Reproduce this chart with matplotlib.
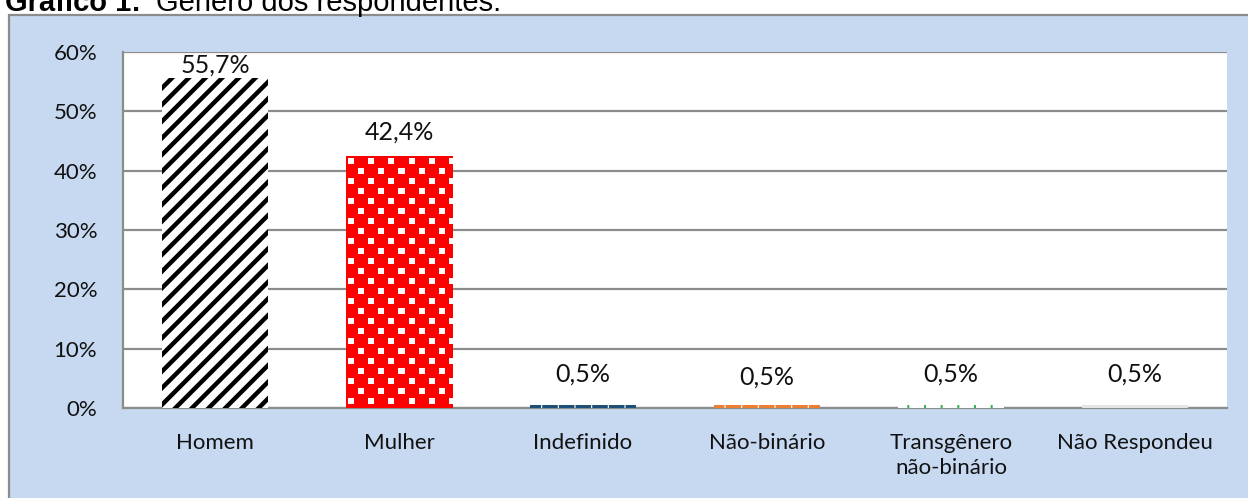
import matplotlib.pyplot as plt
import matplotlib.patches as mpatches
import numpy as np

categorias = ['Homem', 'Mulher', 'Indefinido', 'Não-binário', 'Transgênero\nnão-binário', 'Não Respondeu']
valores = [55.7, 42.4, 0.5, 0.5, 0.5, 0.5]
rotulos = ['55,7%', '42,4%', '0,5%', '0,5%', '0,5%', '0,5%']
yticks = [0, 10, 20, 30, 40, 50, 60]

# estilos das barras (imitando os padroes do Excel)
faces = ['white', 'red', '#1F4E79', '#ED7D31', 'white', '#E4E4E4']
hatches = ['//', None, '|', '|', '|', None]
hcolors = ['black', 'red', 'white', 'white', '#2DB34A', '#E4E4E4']
hlw = [3.2, 1, 0.8, 0.8, 1.4, 1]
# distancia da linha de base do rotulo ao topo da barra (pt)
off = [3.6, 12, 16.6, 14.4, 16.6, 16.6]

plt.rcParams['font.family'] = ['Lato', 'DejaVu Sans']

fig = plt.figure(figsize=(12.48, 4.98), dpi=100)

# caixa azul de fundo
bg = mpatches.Rectangle((8.5/1248, -0.05), 1.1, 1 - 15/498 + 0.05, transform=fig.transFigure,
                        facecolor='#C6D9F1', edgecolor='#8C8C8C', lw=1.6, zorder=-5)
fig.patches.append(bg)

fig.text(5/1248, 1 - 11/498, 'Gráfico 1:', fontsize=21, fontweight='bold',
         family='Liberation Sans', va='baseline', ha='left')
fig.text(156/1248, 1 - 11/498, 'Gênero dos respondentes.', fontsize=21,
         family='Liberation Sans', va='baseline', ha='left')

ax = fig.add_axes([123/1248, 90/498, 1104/1248, 356/498])
ax.set_zorder(2)
ax.set_facecolor('white')

x = np.arange(len(categorias))
barras = []
for i in range(len(categorias)):
    with plt.rc_context({'hatch.linewidth': hlw[i]}):
        b = ax.bar(x[i], valores[i], width=0.58, color=faces[i], edgecolor=hcolors[i],
                   hatch=hatches[i], linewidth=0, zorder=3)[0]
    barras.append(b)
    ax.annotate(rotulos[i], (x[i], valores[i]), xytext=(0, off[i]), textcoords='offset points',
                ha='center', va='baseline', fontsize=18, color='#111111')

# textura de bolinhas vermelhas (barra Mulher)
b = barras[1]
ii, jj = np.indices((252, 106))
branco = (((ii // 10 + jj // 10) % 2) == 0) & (ii % 10 >= 2) & (ii % 10 <= 7) & (jj % 10 >= 2) & (jj % 10 <= 7)
tex = np.zeros((252, 106, 3))
tex[:] = [1.0, 0.0, 0.0]
tex[branco] = [1.0, 1.0, 1.0]
im = ax.imshow(tex, extent=(b.get_x(), b.get_x() + b.get_width(), 0, b.get_height()),
               aspect='auto', interpolation='nearest', zorder=4)
im.set_clip_path(b)

ax.set_xlim(-0.5, len(categorias) - 0.5)
ax.set_ylim(0, 60)
ax.set_yticks(yticks)
ax.set_yticklabels([f'{v}%' for v in yticks])
ax.set_xticks(x)
ax.set_xticklabels(categorias, linespacing=1.3)
ax.tick_params(axis='y', length=0, pad=18.5, labelsize=16, labelcolor='#111111')
ax.tick_params(axis='x', length=0, pad=18, labelsize=16, labelcolor='#111111')
ax.yaxis.grid(True, color='#8C8C8C', lw=1.6, zorder=1)
ax.set_axisbelow(True)
for s in ['top', 'right']:
    ax.spines[s].set_visible(False)
ax.spines['left'].set_color('#8C8C8C')
ax.spines['left'].set_linewidth(1.6)
ax.spines['bottom'].set_color('#8C8C8C')
ax.spines['bottom'].set_linewidth(1.6)

fig.savefig('out.png', dpi=100)
